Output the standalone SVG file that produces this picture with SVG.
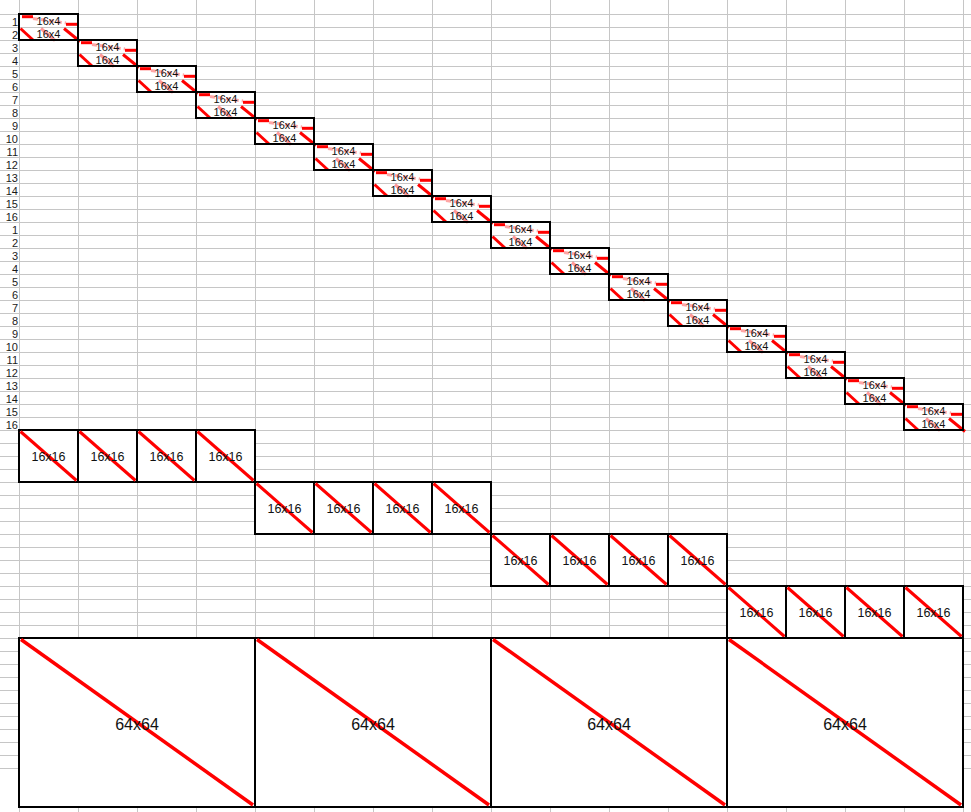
<svg xmlns="http://www.w3.org/2000/svg" xmlns:xlink="http://www.w3.org/1999/xlink" width="971" height="812" viewBox="0 0 971 812">
<style>
.grid{stroke:#c6c6c6;stroke-width:1;fill:none}
.rl{font-family:"Liberation Sans",Arial,sans-serif;font-size:11px;fill:#1a1a1a;text-anchor:end}
.t4{font-family:"Liberation Sans",Arial,sans-serif;font-size:11px;fill:#111;text-anchor:middle}
.t16{font-family:"Liberation Sans",Arial,sans-serif;font-size:12.5px;fill:#111;text-anchor:middle}
.t64{font-family:"Liberation Sans",Arial,sans-serif;font-size:16px;fill:#111;text-anchor:middle}
.bd{fill:none;stroke:#000;stroke-width:2}
.bw{fill:#fff;stroke:#000;stroke-width:2}
.red{stroke:#ff0000;fill:none}
</style>
<defs>
<g id="deco4">
<line class="red" x1="3" y1="2.7" x2="14" y2="2.7" stroke-width="3"/>
<line class="red" x1="14" y1="4.5" x2="47" y2="9" stroke-width="3" stroke-opacity="0.35" stroke-dasharray="5 3"/>
<line class="red" x1="47" y1="10.3" x2="58" y2="10.3" stroke-width="3"/>
<line class="red" x1="1.5" y1="14.5" x2="14" y2="26" stroke-width="3"/>
<line class="red" x1="22" y1="14.5" x2="36" y2="26.5" stroke-width="3" stroke-opacity="0.4"/>
<line class="red" x1="45" y1="14.5" x2="61" y2="27.5" stroke-width="3"/>
<rect class="bd" x="0" y="0" width="59" height="26"/>
</g>
<g id="box16">
<rect class="bw" x="0" y="0" width="59" height="52"/>
<line class="red" x1="1.5" y1="1.5" x2="57.5" y2="50.5" stroke-width="3"/>
</g>
<g id="box64">
<rect class="bw" x="0" y="0" width="236" height="169"/>
<line class="red" x1="2" y1="1.5" x2="234" y2="167" stroke-width="3.5"/>
</g>
</defs>
<rect x="0" y="0" width="971" height="812" fill="#fff"/>
<g id="grid">
<path class="grid" d="M19.5 0v812m59 -812v812m59 -812v812m59 -812v812m59 -812v812m59 -812v812m59 -812v812m59 -812v812m59 -812v812m59 -812v812m59 -812v812m59 -812v812m59 -812v812m59 -812v812m59 -812v812m59 -812v812m59 -812v812"/>
<path class="grid" d="M0 14.5h971m-971 13h971m-971 13h971m-971 13h971m-971 13h971m-971 13h971m-971 13h971m-971 13h971m-971 13h971m-971 13h971m-971 13h971m-971 13h971m-971 13h971m-971 13h971m-971 13h971m-971 13h971m-971 13h971m-971 13h971m-971 13h971m-971 13h971m-971 13h971m-971 13h971m-971 13h971m-971 13h971m-971 13h971m-971 13h971m-971 13h971m-971 13h971m-971 13h971m-971 13h971m-971 13h971m-971 13h971m-971 13h971m-971 13h971m-971 13h971m-971 13h971m-971 13h971m-971 13h971m-971 13h971m-971 13h971m-971 13h971m-971 13h971m-971 13h971m-971 13h971m-971 13h971m-971 13h971m-971 13h971m-971 13h971m-971 13h971m-971 13h971m-971 13h971m-971 13h971m-971 13h971m-971 13h971m-971 13h971m-971 13h971m-971 13h971m-971 13h971m-971 13h971"/>
</g>
<g id="row-labels">
<text class="rl" x="18" y="26">1</text><text class="rl" x="18" y="39">2</text><text class="rl" x="18" y="52">3</text><text class="rl" x="18" y="65">4</text>
<text class="rl" x="18" y="78">5</text><text class="rl" x="18" y="91">6</text><text class="rl" x="18" y="104">7</text><text class="rl" x="18" y="117">8</text>
<text class="rl" x="18" y="130">9</text><text class="rl" x="18" y="143">10</text><text class="rl" x="18" y="156">11</text><text class="rl" x="18" y="169">12</text>
<text class="rl" x="18" y="182">13</text><text class="rl" x="18" y="195">14</text><text class="rl" x="18" y="208">15</text><text class="rl" x="18" y="221">16</text>
<text class="rl" x="18" y="234">1</text><text class="rl" x="18" y="247">2</text><text class="rl" x="18" y="260">3</text><text class="rl" x="18" y="273">4</text>
<text class="rl" x="18" y="286">5</text><text class="rl" x="18" y="299">6</text><text class="rl" x="18" y="312">7</text><text class="rl" x="18" y="325">8</text>
<text class="rl" x="18" y="338">9</text><text class="rl" x="18" y="351">10</text><text class="rl" x="18" y="364">11</text><text class="rl" x="18" y="377">12</text>
<text class="rl" x="18" y="390">13</text><text class="rl" x="18" y="403">14</text><text class="rl" x="18" y="416">15</text><text class="rl" x="18" y="429">16</text>
</g>
<g id="connectors"></g>
<g id="b4-1" transform="translate(19,14)"><use xlink:href="#deco4"/><text class="t4" x="29.5" y="11">16x4</text><text class="t4" x="29.5" y="24">16x4</text></g>
<g id="b4-2" transform="translate(78,40)"><use xlink:href="#deco4"/><text class="t4" x="29.5" y="11">16x4</text><text class="t4" x="29.5" y="24">16x4</text></g>
<g id="b4-3" transform="translate(137,66)"><use xlink:href="#deco4"/><text class="t4" x="29.5" y="11">16x4</text><text class="t4" x="29.5" y="24">16x4</text></g>
<g id="b4-4" transform="translate(196,92)"><use xlink:href="#deco4"/><text class="t4" x="29.5" y="11">16x4</text><text class="t4" x="29.5" y="24">16x4</text></g>
<g id="b4-5" transform="translate(255,118)"><use xlink:href="#deco4"/><text class="t4" x="29.5" y="11">16x4</text><text class="t4" x="29.5" y="24">16x4</text></g>
<g id="b4-6" transform="translate(314,144)"><use xlink:href="#deco4"/><text class="t4" x="29.5" y="11">16x4</text><text class="t4" x="29.5" y="24">16x4</text></g>
<g id="b4-7" transform="translate(373,170)"><use xlink:href="#deco4"/><text class="t4" x="29.5" y="11">16x4</text><text class="t4" x="29.5" y="24">16x4</text></g>
<g id="b4-8" transform="translate(432,196)"><use xlink:href="#deco4"/><text class="t4" x="29.5" y="11">16x4</text><text class="t4" x="29.5" y="24">16x4</text></g>
<g id="b4-9" transform="translate(491,222)"><use xlink:href="#deco4"/><text class="t4" x="29.5" y="11">16x4</text><text class="t4" x="29.5" y="24">16x4</text></g>
<g id="b4-10" transform="translate(550,248)"><use xlink:href="#deco4"/><text class="t4" x="29.5" y="11">16x4</text><text class="t4" x="29.5" y="24">16x4</text></g>
<g id="b4-11" transform="translate(609,274)"><use xlink:href="#deco4"/><text class="t4" x="29.5" y="11">16x4</text><text class="t4" x="29.5" y="24">16x4</text></g>
<g id="b4-12" transform="translate(668,300)"><use xlink:href="#deco4"/><text class="t4" x="29.5" y="11">16x4</text><text class="t4" x="29.5" y="24">16x4</text></g>
<g id="b4-13" transform="translate(727,326)"><use xlink:href="#deco4"/><text class="t4" x="29.5" y="11">16x4</text><text class="t4" x="29.5" y="24">16x4</text></g>
<g id="b4-14" transform="translate(786,352)"><use xlink:href="#deco4"/><text class="t4" x="29.5" y="11">16x4</text><text class="t4" x="29.5" y="24">16x4</text></g>
<g id="b4-15" transform="translate(845,378)"><use xlink:href="#deco4"/><text class="t4" x="29.5" y="11">16x4</text><text class="t4" x="29.5" y="24">16x4</text></g>
<g id="b4-16" transform="translate(904,404)"><use xlink:href="#deco4"/><text class="t4" x="29.5" y="11">16x4</text><text class="t4" x="29.5" y="24">16x4</text></g>
<g id="b16-1" transform="translate(19,430)"><use xlink:href="#box16"/><text class="t16" x="29.5" y="31">16x16</text></g>
<g id="b16-2" transform="translate(78,430)"><use xlink:href="#box16"/><text class="t16" x="29.5" y="31">16x16</text></g>
<g id="b16-3" transform="translate(137,430)"><use xlink:href="#box16"/><text class="t16" x="29.5" y="31">16x16</text></g>
<g id="b16-4" transform="translate(196,430)"><use xlink:href="#box16"/><text class="t16" x="29.5" y="31">16x16</text></g>
<g id="b16-5" transform="translate(255,482)"><use xlink:href="#box16"/><text class="t16" x="29.5" y="31">16x16</text></g>
<g id="b16-6" transform="translate(314,482)"><use xlink:href="#box16"/><text class="t16" x="29.5" y="31">16x16</text></g>
<g id="b16-7" transform="translate(373,482)"><use xlink:href="#box16"/><text class="t16" x="29.5" y="31">16x16</text></g>
<g id="b16-8" transform="translate(432,482)"><use xlink:href="#box16"/><text class="t16" x="29.5" y="31">16x16</text></g>
<g id="b16-9" transform="translate(491,534)"><use xlink:href="#box16"/><text class="t16" x="29.5" y="31">16x16</text></g>
<g id="b16-10" transform="translate(550,534)"><use xlink:href="#box16"/><text class="t16" x="29.5" y="31">16x16</text></g>
<g id="b16-11" transform="translate(609,534)"><use xlink:href="#box16"/><text class="t16" x="29.5" y="31">16x16</text></g>
<g id="b16-12" transform="translate(668,534)"><use xlink:href="#box16"/><text class="t16" x="29.5" y="31">16x16</text></g>
<g id="b16-13" transform="translate(727,586)"><use xlink:href="#box16"/><text class="t16" x="29.5" y="31">16x16</text></g>
<g id="b16-14" transform="translate(786,586)"><use xlink:href="#box16"/><text class="t16" x="29.5" y="31">16x16</text></g>
<g id="b16-15" transform="translate(845,586)"><use xlink:href="#box16"/><text class="t16" x="29.5" y="31">16x16</text></g>
<g id="b16-16" transform="translate(904,586)"><use xlink:href="#box16"/><text class="t16" x="29.5" y="31">16x16</text></g>
<g id="b64-1" transform="translate(19,638)"><use xlink:href="#box64"/><text class="t64" x="118" y="91.5">64x64</text></g>
<g id="b64-2" transform="translate(255,638)"><use xlink:href="#box64"/><text class="t64" x="118" y="91.5">64x64</text></g>
<g id="b64-3" transform="translate(491,638)"><use xlink:href="#box64"/><text class="t64" x="118" y="91.5">64x64</text></g>
<g id="b64-4" transform="translate(727,638)"><use xlink:href="#box64"/><text class="t64" x="118" y="91.5">64x64</text></g>
</svg>
